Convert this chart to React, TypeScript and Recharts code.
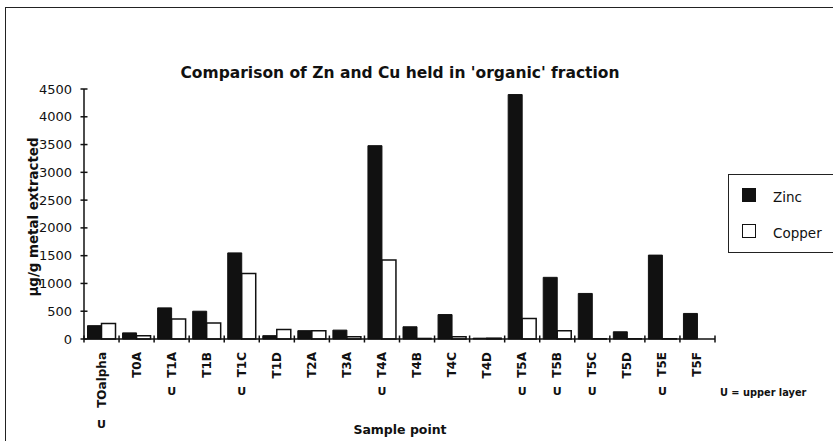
import React from "react";
import { BarChart, Bar, XAxis, YAxis } from "recharts";

const categories = [
  "TOalpha", "T0A", "T1A", "T1B", "T1C", "T1D", "T2A", "T3A", "T4A",
  "T4B", "T4C", "T4D", "T5A", "T5B", "T5C", "T5D", "T5E", "T5F",
];
// samples taken from the upper layer get a "U" under the label
const upperLayer = [
  true, false, true, false, true, false, false, false, true,
  false, false, false, true, true, true, false, true, false,
];
const zinc = [240, 110, 560, 500, 1550, 60, 150, 160, 3480, 220, 440, 15, 4400, 1110, 820, 130, 1510, 460];
const copper = [280, 60, 360, 290, 1180, 170, 150, 40, 1420, 10, 40, 15, 370, 150, 5, 5, 5, 0];
const yTicks = [0, 500, 1000, 1500, 2000, 2500, 3000, 3500, 4000, 4500];

const data = categories.map((name, i) => ({
  name,
  Zinc: zinc[i],
  Copper: copper[i],
}));

const font = "'DejaVu Sans', Verdana, sans-serif";

// tick marks cross the axis, like the original spreadsheet chart
const renderYTick = (props: any) => {
  const { x, y, payload } = props;
  return (
    <g>
      <path d={`M${x - 3.5},${y}H${x + 3.5}`} stroke="#111" strokeWidth={1.5} fill="none" />
      <text x={x - 12} y={y} textAnchor="end" dominantBaseline="central" fontSize={13} fontFamily={font} fill="#111">
        {payload.value}
      </text>
    </g>
  );
};

const renderXTick = (props: any) => {
  const { x, y, payload, index } = props;
  const off = payload.offset ?? 17.5;
  const name = String(payload.value);
  const upper = upperLayer[categories.indexOf(name)];
  const last = index === categories.length - 1;
  const uPos = y + 13 + name.length * 8.4 + 14;
  return (
    <g>
      <path d={`M${x - off},${y - 3.5}V${y + 3.5}`} stroke="#111" strokeWidth={1.5} fill="none" />
      {last && <path d={`M${x + off},${y - 3.5}V${y + 3.5}`} stroke="#111" strokeWidth={1.5} fill="none" />}
      <text
        transform={`translate(${x},${y + 13}) rotate(-90)`}
        textAnchor="end"
        dominantBaseline="central"
        fontSize={12}
        fontWeight="bold"
        fontFamily={font}
        fill="#111"
      >
        {name}
      </text>
      {upper && (
        <text x={x} y={uPos} textAnchor="middle" dominantBaseline="central" fontSize={11} fontWeight="bold" fontFamily={font} fill="#111">
          U
        </text>
      )}
    </g>
  );
};

export default function App() {
  return (
    <div style={{ position: "absolute", left: 0, top: 0, width: 833, height: 441, background: "#fff", overflow: "hidden", fontFamily: font }}>
      <div style={{ position: "absolute", left: 0, width: 800, top: 64, textAlign: "center", fontSize: 15.5, fontWeight: "bold", color: "#111" }}>
        Comparison of Zn and Cu held in 'organic' fraction
      </div>
      <div
        style={{
          position: "absolute",
          left: 33,
          top: 217,
          transform: "translate(-50%, -50%) rotate(-90deg)",
          whiteSpace: "nowrap",
          fontSize: 13.4,
          fontWeight: "bold",
          color: "#111",
        }}
      >
        µg/g metal extracted
      </div>
      <BarChart
        width={833}
        height={441}
        data={data}
        margin={{ top: 89, right: 118, left: 44, bottom: 12 }}
        barCategoryGap="10%"
        barGap={0}
      >
        <YAxis
          width={40}
          domain={[0, 4500]}
          ticks={yTicks}
          interval={0}
          axisLine={{ stroke: "#111", strokeWidth: 1.5 }}
          tickLine={false}
          tickSize={0}
          tickMargin={0}
          tick={renderYTick}
        />
        <XAxis
          dataKey="name"
          height={90}
          interval={0}
          axisLine={{ stroke: "#111", strokeWidth: 1.5 }}
          tickLine={false}
          tickSize={0}
          tickMargin={0}
          tick={renderXTick}
        />
        <Bar dataKey="Zinc" fill="#111" stroke="#111" strokeWidth={1} isAnimationActive={false} />
        <Bar dataKey="Copper" fill="#fff" stroke="#111" strokeWidth={1.5} isAnimationActive={false} />
      </BarChart>
      <div style={{ position: "absolute", left: 728, top: 174, width: 120, height: 79, border: "1.5px solid #222", boxSizing: "border-box" }}>
        <div style={{ position: "absolute", left: 13, top: 13, width: 14, height: 14, background: "#111" }} />
        <div style={{ position: "absolute", left: 44, top: 14, fontSize: 13.5, color: "#111" }}>Zinc</div>
        <div style={{ position: "absolute", left: 13, top: 49, width: 12, height: 12, border: "1.5px solid #111", background: "#fff" }} />
        <div style={{ position: "absolute", left: 44, top: 50, fontSize: 13.5, color: "#111" }}>Copper</div>
      </div>
      <div style={{ position: "absolute", left: 720, top: 387, fontSize: 9.8, fontWeight: "bold", color: "#111", whiteSpace: "nowrap" }}>
        U = upper layer
      </div>
      <div style={{ position: "absolute", left: 300, width: 200, top: 422, textAlign: "center", fontSize: 12.5, fontWeight: "bold", color: "#111" }}>
        Sample point
      </div>
      <div style={{ position: "absolute", zIndex: 5, left: 5, top: 7, width: 900, height: 500, borderTop: "1.5px solid #222", borderLeft: "1.5px solid #222", pointerEvents: "none" }} />
    </div>
  );
}
